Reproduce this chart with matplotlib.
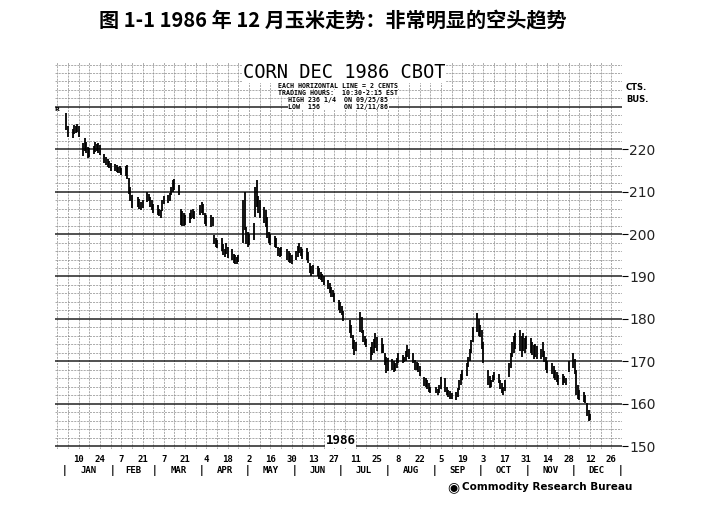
import matplotlib
matplotlib.use("Agg")
import matplotlib.pyplot as plt
import matplotlib.dates as mdates
from matplotlib.transforms import blended_transform_factory
import pandas as pd
import datetime as dt

# daily high / low, cents per bushel, one row per trading week
highs = [
    228.5, 225.5,                          # Jan 2-3
    224.8, 225.7, 225.5, 226.0, 225.5,     # Jan 6
    221.5, 222.6, 221.8, 220.5, 220.2,     # Jan 13
    220.8, 221.7, 221.2, 221.5, 221.0,     # Jan 20
    219.0, 218.2, 217.6, 217.2, 216.8,     # Jan 27
    216.5, 216.3, 215.8, 216.0, 215.5,     # Feb 3
    216.0, 216.3, 213.2, 211.0, 209.2,     # Feb 10
    208.7, 208.2, 207.6, 208.0,            # Feb 18
    209.9, 209.5, 208.7, 208.0, 207.2,     # Feb 24
    206.8, 206.0, 205.6, 208.0, 209.0,     # Mar 3
    209.3, 209.8, 211.2, 212.7, 213.0,     # Mar 10
    211.5, 206.0, 205.4, 205.0, 204.6,     # Mar 17
    205.0, 205.6, 206.0, 205.5,            # Mar 24
    206.8, 207.5, 207.0, 205.0, 204.6,     # Mar 31
    204.5, 204.0, 199.8, 199.0, 198.6,     # Apr 7
    199.0, 197.6, 196.5, 197.9, 197.0,     # Apr 14
    196.5, 195.2, 195.0, 194.6, 195.0,     # Apr 21
    208.0, 209.9, 201.6, 200.5, 200.0,     # Apr 28
    202.6, 211.0, 212.7, 209.0, 208.0,     # May 5
    206.5, 205.7, 204.0, 200.5, 200.0,     # May 12
    199.6, 199.0, 197.0, 196.7, 197.0,     # May 19
    196.5, 196.0, 195.5, 195.0,            # May 27
    196.0, 197.2, 197.9, 197.0, 196.5,     # Jun 2
    196.8, 195.8, 193.2, 192.5, 192.7,     # Jun 9
    192.5, 192.0, 191.0, 190.5, 190.0,     # Jun 16
    189.2, 188.4, 187.5, 186.8, 186.0,     # Jun 23
    184.5, 184.0, 183.0, 181.8,            # Jun 30
    179.7, 178.5, 176.2, 175.0, 174.5,     # Jul 7
    181.6, 180.5, 177.4, 176.0, 175.2,     # Jul 14
    173.3, 174.5, 175.2, 176.7, 175.8,     # Jul 21
    175.5, 174.0, 171.9, 171.0, 170.8,     # Jul 28
    170.5, 170.0, 169.6, 170.8, 171.9,     # Aug 4
    171.5, 171.0, 172.5, 173.8, 173.0,     # Aug 11
    172.0, 170.3, 169.8, 169.5, 168.8,     # Aug 18
    166.3, 166.0, 165.5, 164.8, 163.9,     # Aug 25
    163.9, 163.5, 164.5, 166.3,            # Sep 2
    166.0, 164.0, 163.2, 163.0, 162.5,     # Sep 8
    162.8, 163.8, 165.5, 167.0, 168.0,     # Sep 15
    169.5, 171.0, 172.8, 175.0, 178.0,     # Sep 22
    181.4, 180.0, 178.5, 177.4, 174.5,     # Sep 29
    168.0, 166.5, 165.5, 166.8, 167.5,     # Oct 6
    167.0, 165.6, 164.8, 164.0, 165.5,     # Oct 13
    169.5, 172.0, 174.5, 176.0, 176.7,     # Oct 20
    177.4, 176.0, 176.7, 175.5, 176.0,     # Oct 27
    175.5, 174.5, 173.8, 174.0, 173.5,     # Nov 3
    173.0, 174.5, 172.5, 171.0, 170.0,     # Nov 10
    169.6, 168.8, 168.0, 167.5, 166.8,     # Nov 17
    167.0, 166.5, 166.0, 170.0,            # Nov 24
    172.0, 170.5, 168.0, 164.5, 163.2,     # Dec 1
    162.8, 162.0, 160.1, 158.5, 157.5,     # Dec 8
]
lows = [
    224.5, 222.8,
    222.6, 223.6, 223.8, 224.0, 222.8,
    218.5, 219.6, 219.2, 218.0, 218.2,
    218.9, 219.4, 219.6, 219.2, 218.6,
    216.8, 216.4, 215.8, 215.6, 215.0,
    214.8, 214.6, 214.5, 214.4, 214.0,
    213.8, 213.0, 209.5, 207.8, 206.1,
    206.4, 205.9, 205.7, 206.2,
    207.6, 207.8, 206.5, 205.8, 205.0,
    204.6, 204.2, 203.8, 205.5, 207.0,
    207.3, 207.8, 209.2, 210.0, 210.5,
    209.2, 202.2, 202.0, 201.8, 202.2,
    202.5, 203.5, 203.8, 203.6,
    204.5, 205.0, 204.6, 202.4, 202.0,
    201.6, 201.8, 197.6, 197.0, 196.8,
    196.0, 195.0, 194.6, 195.2, 194.4,
    193.9, 193.2, 193.0, 193.0, 193.3,
    197.9, 201.0, 197.6, 197.0, 197.5,
    198.6, 204.0, 206.4, 205.0, 203.8,
    202.6, 201.6, 199.0, 198.0, 197.4,
    197.0, 196.7, 194.8, 194.5, 194.8,
    194.0, 193.5, 193.2, 193.0,
    193.9, 194.5, 195.5, 194.8, 194.2,
    194.0, 193.2, 190.8, 190.2, 190.5,
    190.0, 189.5, 189.2, 188.8, 188.0,
    187.0, 186.2, 185.2, 185.1, 184.0,
    182.0, 181.4, 180.9, 179.5,
    176.7, 175.5, 173.0, 171.5, 172.5,
    177.0, 176.7, 174.5, 173.8, 173.3,
    170.3, 171.5, 172.0, 173.2, 172.5,
    172.0, 171.9, 169.0, 167.2, 167.8,
    168.0, 167.5, 167.8, 168.5, 169.6,
    169.6, 169.8, 170.0, 171.0, 170.5,
    169.6, 168.0, 167.9, 167.5, 166.5,
    164.2, 163.9, 163.5, 162.8, 162.4,
    162.4, 162.0, 162.5, 163.5,
    162.7, 162.0, 161.5, 161.0, 161.2,
    160.8, 161.6, 163.2, 164.5, 165.5,
    166.5, 168.6, 170.0, 172.0, 174.5,
    177.0, 176.0, 175.7, 173.0, 169.6,
    164.5, 163.7, 164.0, 165.0, 165.5,
    164.9, 163.5, 162.5, 162.0, 163.0,
    166.3, 168.5, 171.0, 172.0, 173.0,
    172.5, 171.0, 172.5, 172.0, 172.8,
    172.0, 171.5, 170.5, 171.0, 170.5,
    170.5, 171.0, 169.8, 168.0, 167.2,
    167.0, 166.0, 165.5, 165.0, 164.4,
    164.4, 164.8, 164.5, 167.5,
    168.5, 167.0, 162.0, 161.0, 160.8,
    160.5, 160.1, 157.0, 156.0, 156.2,
]
holidays = ["1986-02-17", "1986-03-28", "1986-05-26", "1986-07-04",
            "1986-09-01", "1986-11-27"]
day_labels = ["10", "24", "7", "21", "7", "21", "4", "18", "2", "16", "30",
              "13", "27", "11", "25", "8", "22", "5", "19", "3", "17", "31",
              "14", "28", "12", "26"]
months = ["JAN", "FEB", "MAR", "APR", "MAY", "JUN", "JUL", "AUG", "SEP",
          "OCT", "NOV", "DEC"]
price_ticks = [150, 160, 170, 180, 190, 200, 210, 220]

days = pd.bdate_range("1986-01-02", "1986-12-12")
days = days[~days.isin(pd.to_datetime(holidays))]
x = mdates.date2num(days.to_pydatetime())[:len(highs)]

fig = plt.figure(figsize=(7.04, 5.08), dpi=100)
ax = fig.add_axes([55 / 704, 1 - 449 / 508, 567 / 704, 387 / 508])

x0 = mdates.date2num(dt.datetime(1985, 12, 25, 12))
x1 = mdates.date2num(dt.datetime(1987, 1, 2))
ax.set_xlim(x0, x1)
ax.set_ylim(149.3, 240.6)

# chart paper grid
thin = dict(color="#8a8a8a", lw=0.5, ls=(0, (3, 1.5)), zorder=1)
fridays = pd.date_range("1985-12-27", "1987-01-02", freq="W-FRI")
for f in mdates.date2num(fridays.to_pydatetime()):
    ax.axvline(f, **thin)
for p in range(150, 241, 2):
    if p % 10 == 0 and p < 240:
        ax.axhline(p, color="#222222", lw=1.1, zorder=1)
    else:
        ax.axhline(p, **thin)

ax.vlines(x, lows, highs, color="black", lw=1.3, zorder=3)

for s in ax.spines.values():
    s.set_visible(False)
ax.set_xticks([])
ax.yaxis.tick_right()
ax.set_yticks(price_ticks)
ax.set_yticklabels([str(p) for p in price_ticks])
ax.tick_params(axis="y", length=4, width=0.8, pad=1, labelsize=10,
               labelcolor="#222222")

# bottom date labels
trans = blended_transform_factory(ax.transData, ax.transAxes)
biweekly = pd.date_range("1986-01-10", periods=len(day_labels), freq="2W-FRI")
for d, lab in zip(mdates.date2num(biweekly.to_pydatetime()), day_labels):
    ax.text(d, -0.028, lab, transform=trans, ha="center", va="center",
            fontsize=6.5, fontweight="bold", family="DejaVu Sans Mono")
starts = pd.date_range("1986-01-01", "1987-01-01", freq="MS")
starts_n = mdates.date2num(starts.to_pydatetime())
for s in starts_n:
    ax.text(s, -0.056, "|", transform=trans, ha="center", va="center",
            fontsize=7, fontweight="bold")
for i, m in enumerate(months):
    ax.text((starts_n[i] + starts_n[i + 1]) / 2, -0.056, m, transform=trans,
            ha="center", va="center", fontsize=6.5, fontweight="bold",
            family="DejaVu Sans Mono")

box = dict(facecolor="white", edgecolor="none", pad=0.5)
ax.text(0.51, 0.972, "CORN DEC 1986 CBOT", transform=ax.transAxes,
        ha="center", va="center", fontsize=13.5, family="DejaVu Sans Mono",
        zorder=4, bbox=box)
info = ["EACH HORIZONTAL LINE = 2 CENTS",
        "TRADING HOURS:  10:30-2:15 EST",
        "HIGH 236 1/4  ON 09/25/85",
        "LOW  156      ON 12/11/86"]
for i, line in enumerate(info):
    ax.text(0.5, 0.938 - i * 0.018, line, transform=ax.transAxes,
            ha="center", va="center", fontsize=4.8, fontweight="bold",
            family="DejaVu Sans Mono", zorder=4,
            bbox=dict(facecolor="white", edgecolor="none", pad=0.2))
ax.text(mdates.date2num(dt.datetime(1986, 7, 1)), 151.3, "1986",
        ha="center", va="center", fontsize=9, fontweight="bold",
        family="DejaVu Sans Mono", zorder=4, bbox=box)
ax.text(x[0] - 6, 229.3, "R", ha="center", va="center", fontsize=4.5,
        fontweight="bold", zorder=4)

fig.text(626 / 704, 1 - 88 / 508, "CTS.", fontsize=6, va="center",
         fontweight="bold")
fig.text(626 / 704, 1 - 99 / 508, "BUS.", fontsize=6, va="center",
         fontweight="bold")

fig.text(333 / 704, 1 - 21 / 508, "图 1-1 1986 年 12 月玉米走势：非常明显的空头趋势",
         ha="center", va="center", fontsize=14.5, fontweight="bold",
         family=["Noto Sans CJK SC", "DejaVu Sans"])

fig.text(453 / 704, 1 - 487 / 508, "\u25C9", fontsize=10, ha="center",
         va="center")
fig.text(462 / 704, 1 - 487 / 508, "Commodity Research Bureau", fontsize=7.5,
         fontweight="bold", ha="left", va="center")

fig.savefig("out.png", dpi=100)
